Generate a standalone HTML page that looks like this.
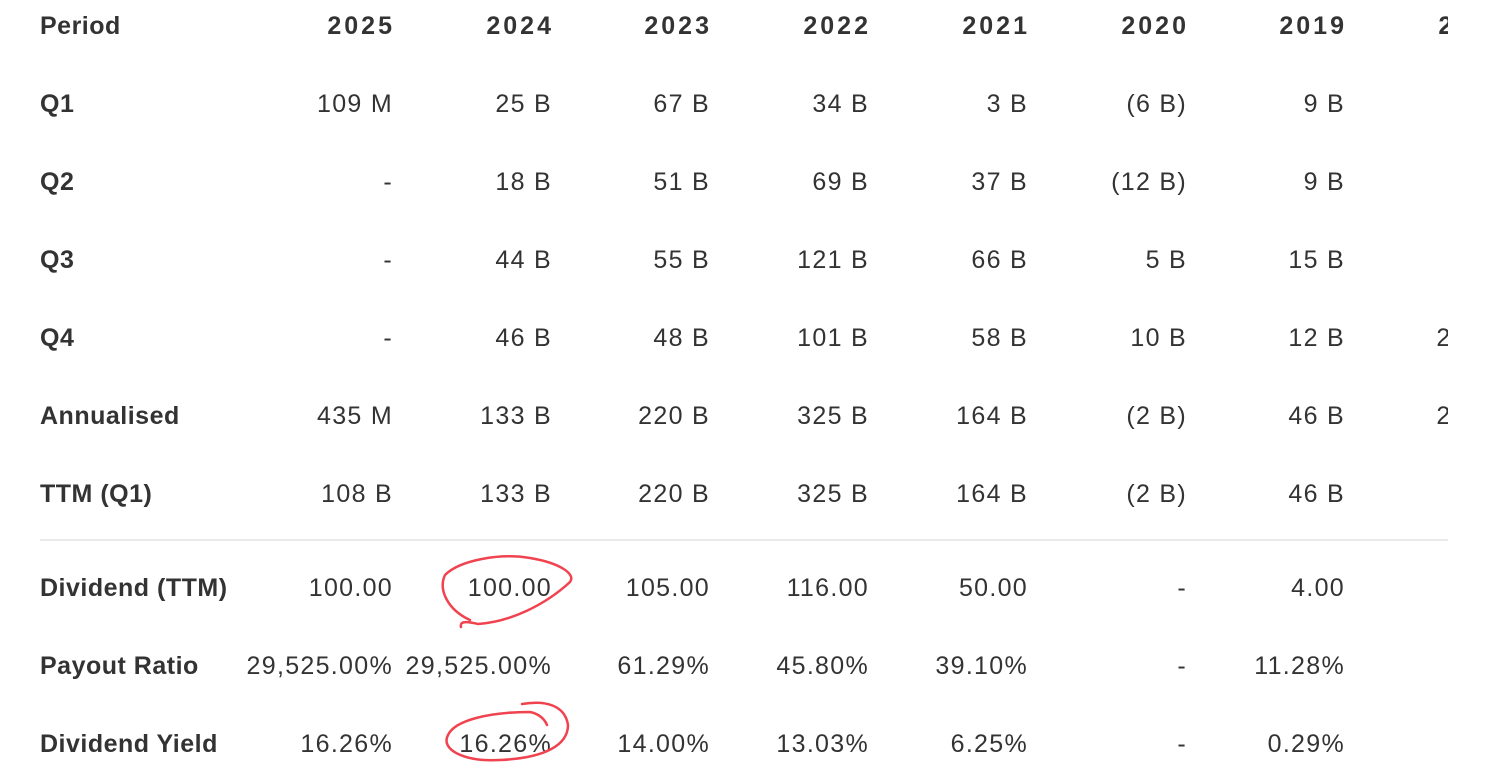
<!DOCTYPE html>
<html><head><meta charset="utf-8"><style>
html,body{margin:0;padding:0;background:#fff;width:1488px;height:783px;overflow:hidden}
svg text{font-family:"Liberation Sans",sans-serif;font-size:25px;fill:#333;letter-spacing:1.3px}
.b{font-weight:bold;letter-spacing:0.5px}
.h{font-weight:bold;letter-spacing:3px}
</style></head><body>
<svg width="1488" height="783" xmlns="http://www.w3.org/2000/svg">
<defs><clipPath id="c"><rect x="0" y="0" width="1448" height="783"/></clipPath></defs>
<g clip-path="url(#c)">
<text x="40" y="34" class="b">Period</text>
<text x="40" y="112" class="b">Q1</text>
<text x="40" y="190" class="b">Q2</text>
<text x="40" y="268" class="b">Q3</text>
<text x="40" y="346" class="b">Q4</text>
<text x="40" y="424" class="b">Annualised</text>
<text x="40" y="502" class="b">TTM (Q1)</text>
<text x="40" y="596" class="b">Dividend (TTM)</text>
<text x="40" y="674" class="b">Payout Ratio</text>
<text x="40" y="752" class="b">Dividend Yield</text>
<g text-anchor="end">
<text class="h" x="395" y="34">2025</text><text class="h" x="554" y="34">2024</text><text class="h" x="712" y="34">2023</text><text class="h" x="871" y="34">2022</text><text class="h" x="1030" y="34">2021</text><text class="h" x="1189" y="34">2020</text><text class="h" x="1347" y="34">2019</text><text class="h" x="1506" y="34">2018</text>
</g>
<g text-anchor="end" transform="translate(1,0)">
<text x="392" y="112">109 M</text><text x="551" y="112">25 B</text><text x="709" y="112">67 B</text><text x="868" y="112">34 B</text><text x="1027" y="112">3 B</text><text x="1186" y="112">(6 B)</text><text x="1344" y="112">9 B</text>
<text x="392" y="190">-</text><text x="551" y="190">18 B</text><text x="709" y="190">51 B</text><text x="868" y="190">69 B</text><text x="1027" y="190">37 B</text><text x="1186" y="190">(12 B)</text><text x="1344" y="190">9 B</text>
<text x="392" y="268">-</text><text x="551" y="268">44 B</text><text x="709" y="268">55 B</text><text x="868" y="268">121 B</text><text x="1027" y="268">66 B</text><text x="1186" y="268">5 B</text><text x="1344" y="268">15 B</text>
<text x="392" y="346">-</text><text x="551" y="346">46 B</text><text x="709" y="346">48 B</text><text x="868" y="346">101 B</text><text x="1027" y="346">58 B</text><text x="1186" y="346">10 B</text><text x="1344" y="346">12 B</text><text x="1492" y="346">20 B</text>
<text x="392" y="424">435 M</text><text x="551" y="424">133 B</text><text x="709" y="424">220 B</text><text x="868" y="424">325 B</text><text x="1027" y="424">164 B</text><text x="1186" y="424">(2 B)</text><text x="1344" y="424">46 B</text><text x="1492" y="424">20 B</text>
<text x="392" y="502">108 B</text><text x="551" y="502">133 B</text><text x="709" y="502">220 B</text><text x="868" y="502">325 B</text><text x="1027" y="502">164 B</text><text x="1186" y="502">(2 B)</text><text x="1344" y="502">46 B</text>
<text x="392" y="596">100.00</text><text x="551" y="596">100.00</text><text x="709" y="596">105.00</text><text x="868" y="596">116.00</text><text x="1027" y="596">50.00</text><text x="1186" y="596">-</text><text x="1344" y="596">4.00</text>
<text x="392" y="674">29,525.00%</text><text x="551" y="674">29,525.00%</text><text x="709" y="674">61.29%</text><text x="868" y="674">45.80%</text><text x="1027" y="674">39.10%</text><text x="1186" y="674">-</text><text x="1344" y="674">11.28%</text>
<text x="392" y="752">16.26%</text><text x="551" y="752">16.26%</text><text x="709" y="752">14.00%</text><text x="868" y="752">13.03%</text><text x="1027" y="752">6.25%</text><text x="1186" y="752">-</text><text x="1344" y="752">0.29%</text>
</g>
</g>
<line x1="40" y1="540" x2="1448" y2="540" stroke="#e3e3e3" stroke-width="1.5"/>
<path d="M461,627 C459,620 470,622 478,624 C510,622 545,605 570,582 C576,574 560,563 530,558 C500,553 460,560 445,575 C438,590 448,610 470,620" fill="none" stroke="#f0434f" stroke-width="2.5" stroke-linecap="round"/>
<path d="M522,704 C545,700 565,705 568,725 C568,745 545,758 500,760 C465,762 440,750 448,735 C455,720 490,712 530,712 C540,714 545,720 547,725" fill="none" stroke="#f0434f" stroke-width="2.5" stroke-linecap="round"/>
</svg>
</body></html>
